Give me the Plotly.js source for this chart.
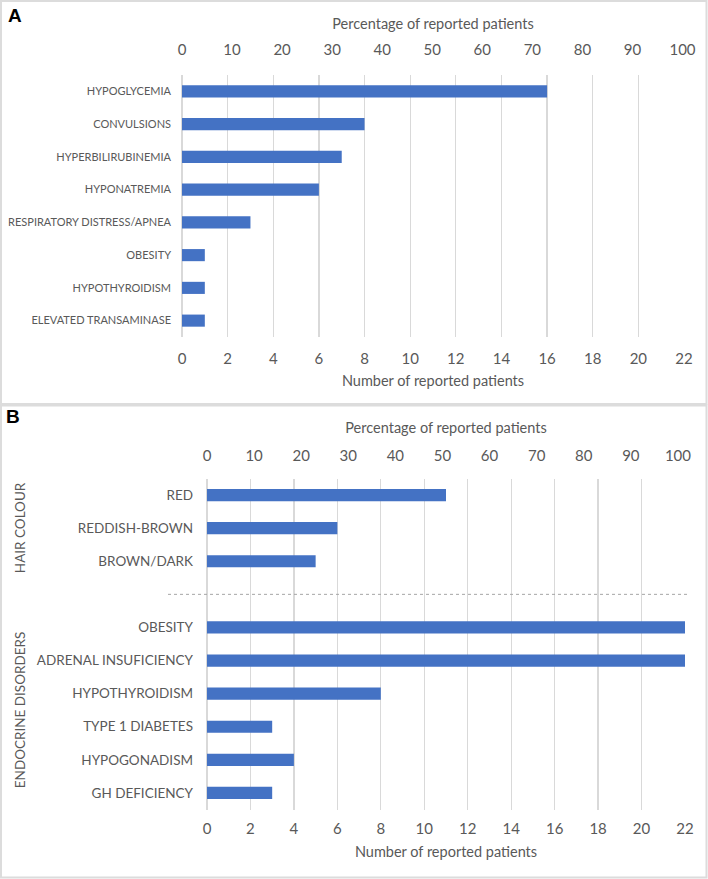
<!DOCTYPE html>
<html>
<head>
<meta charset="utf-8">
<script src="https://cdn.plot.ly/plotly-3.0.1.min.js"></script>
<style>
  html, body { margin: 0; padding: 0; background: #ffffff; }
  #chart { width: 708px; height: 879px; }
</style>
</head>
<body>
<div id="chart"></div>
<script>
// ---------- Data ----------
const panelACategories = ['HYPOGLYCEMIA', 'CONVULSIONS', 'HYPERBILIRUBINEMIA', 'HYPONATREMIA',
  'RESPIRATORY DISTRESS/APNEA', 'OBESITY', 'HYPOTHYROIDISM', 'ELEVATED TRANSAMINASE'];
const panelAValues = [16, 8, 7, 6, 3, 1, 1, 1];

const hairCategories = ['RED', 'REDDISH-BROWN', 'BROWN/DARK'];
const hairValues = [11, 6, 5];

const endocrineCategories = ['OBESITY', 'ADRENAL INSUFICIENCY', 'HYPOTHYROIDISM',
  'TYPE 1 DIABETES', 'HYPOGONADISM', 'GH DEFICIENCY'];
const endocrineValues = [22, 22, 8, 3, 4, 3];

const totalPatients = 22;   // 100 % on the top axis corresponds to this count
const groupLabels = ['HAIR COLOUR', 'ENDOCRINE DISORDERS'];
const countAxisTitle = 'Number of reported patients';
const percentAxisTitle = 'Percentage of reported patients';

// ---------- Styling helpers ----------
const W = 708, H = 879;
const px = v => v / W;
const py = v => 1 - v / H;
const FONT = 'Lato, "Open Sans", sans-serif';
const GREY = '#595959';
const GRID = '#d9d9d9';
const BAR = '#4472C4';

const spacer = ' ';
const panelBCategories = hairCategories.concat([spacer], endocrineCategories);
const pct = arr => arr.map(v => v / totalPatients * 100);

const traces = [
  { type: 'bar', orientation: 'h', x: panelAValues, y: panelACategories,
    xaxis: 'x', yaxis: 'y', marker: { color: BAR }, hoverinfo: 'x+y' },
  // invisible twin on the percentage axis (keeps the top axis drawn)
  { type: 'bar', orientation: 'h', x: pct(panelAValues), y: panelACategories,
    xaxis: 'x2', yaxis: 'y', marker: { color: 'rgba(0,0,0,0)' }, hoverinfo: 'skip' },
  { type: 'bar', orientation: 'h', x: hairValues, y: hairCategories,
    xaxis: 'x3', yaxis: 'y2', marker: { color: BAR }, hoverinfo: 'x+y' },
  { type: 'bar', orientation: 'h', x: endocrineValues, y: endocrineCategories,
    xaxis: 'x3', yaxis: 'y2', marker: { color: BAR }, hoverinfo: 'x+y' },
  { type: 'bar', orientation: 'h', x: pct(hairValues.concat(endocrineValues)),
    y: hairCategories.concat(endocrineCategories),
    xaxis: 'x4', yaxis: 'y2', marker: { color: 'rgba(0,0,0,0)' }, hoverinfo: 'skip' }
];

const countAxis = (domain, anchor, tickOff, titleOff) => ({
  domain: domain, anchor: anchor, side: 'bottom', range: [0, 22], tick0: 0, dtick: 2,
  showgrid: true, gridcolor: GRID, gridwidth: 1.3,
  zeroline: true, zerolinecolor: GRID, zerolinewidth: 1.3,
  showline: false, ticks: '', ticklabelstandoff: tickOff,
  tickfont: { family: FONT, size: 15, color: GREY },
  title: { text: countAxisTitle, standoff: titleOff, font: { family: FONT, size: 14.5, color: GREY } },
  fixedrange: true
});
const pctAxis = (overlay, anchor, maxv, tickOff, titleOff) => ({
  overlaying: overlay, anchor: anchor, side: 'top', range: [0, maxv], tick0: 0, dtick: 10,
  showgrid: false, zeroline: false, showline: false, ticks: '', ticklabelstandoff: tickOff,
  tickfont: { family: FONT, size: 15, color: GREY },
  title: { text: percentAxisTitle, standoff: titleOff, font: { family: FONT, size: 14.5, color: GREY } },
  fixedrange: true
});

const layout = {
  width: W, height: H,
  margin: { l: 0, r: 0, t: 0, b: 0 },
  paper_bgcolor: '#ffffff', plot_bgcolor: 'rgba(0,0,0,0)',
  showlegend: false,
  barmode: 'overlay',
  bargap: 0.63,
  xaxis: countAxis([px(182), px(684)], 'y', 11, 9),
  xaxis2: pctAxis('x', 'y', 100.3, 16, 6),
  yaxis: {
    domain: [py(337), py(75)], anchor: 'x', type: 'category',
    categoryorder: 'array', categoryarray: panelACategories,
    range: [panelACategories.length - 0.5, -0.5],
    showgrid: false, zeroline: false, showline: false, ticks: '', ticklabelstandoff: 10,
    tickfont: { family: FONT, size: 11, color: GREY }, fixedrange: true
  },
  xaxis3: countAxis([px(207), px(685)], 'y2', 8, 11),
  xaxis4: pctAxis('x3', 'y2', 101.5, 14, 8),
  yaxis2: {
    domain: [py(809.5), py(478.5)], anchor: 'x3', type: 'category',
    categoryorder: 'array', categoryarray: panelBCategories,
    range: [panelBCategories.length - 0.5, -0.5],
    showgrid: false, zeroline: false, showline: false, ticks: '', ticklabelstandoff: 13,
    tickfont: { family: FONT, size: 13.5, color: GREY }, fixedrange: true
  },
  shapes: [
    { type: 'rect', xref: 'paper', yref: 'paper', x0: px(1), x1: px(706.5), y0: py(404), y1: py(1),
      line: { color: '#dcdcdc', width: 2 } },
    { type: 'rect', xref: 'paper', yref: 'paper', x0: px(1), x1: px(706.5), y0: py(877.5), y1: py(405.5),
      line: { color: '#dcdcdc', width: 2 } },
    { type: 'line', xref: 'paper', yref: 'y2', x0: px(168), x1: px(689),
      y0: hairCategories.length, y1: hairCategories.length,
      line: { color: '#a6a6a6', width: 1, dash: '3px,3px' } }
  ],
  annotations: [
    { text: '<b>A</b>', xref: 'paper', yref: 'paper', x: px(6), y: py(15), xanchor: 'left', yanchor: 'middle',
      showarrow: false, font: { family: 'Liberation Sans, Arial, sans-serif', size: 19, color: '#000' } },
    { text: '<b>B</b>', xref: 'paper', yref: 'paper', x: px(4), y: py(417), xanchor: 'left', yanchor: 'middle',
      showarrow: false, font: { family: 'Liberation Sans, Arial, sans-serif', size: 19, color: '#000' } },
    { text: groupLabels[0], xref: 'paper', yref: 'y2', x: px(20), y: (hairCategories.length - 1) / 2,
      textangle: -90, showarrow: false, xanchor: 'center', yanchor: 'middle',
      font: { family: FONT, size: 13.5, color: GREY } },
    { text: groupLabels[1], xref: 'paper', yref: 'y2', x: px(20),
      y: hairCategories.length + 1 + (endocrineCategories.length - 1) / 2,
      textangle: -90, showarrow: false, xanchor: 'center', yanchor: 'middle',
      font: { family: FONT, size: 13.5, color: GREY } }
  ]
};

Plotly.newPlot('chart', traces, layout, { displayModeBar: false, staticPlot: true });
</script>
</body>
</html>
